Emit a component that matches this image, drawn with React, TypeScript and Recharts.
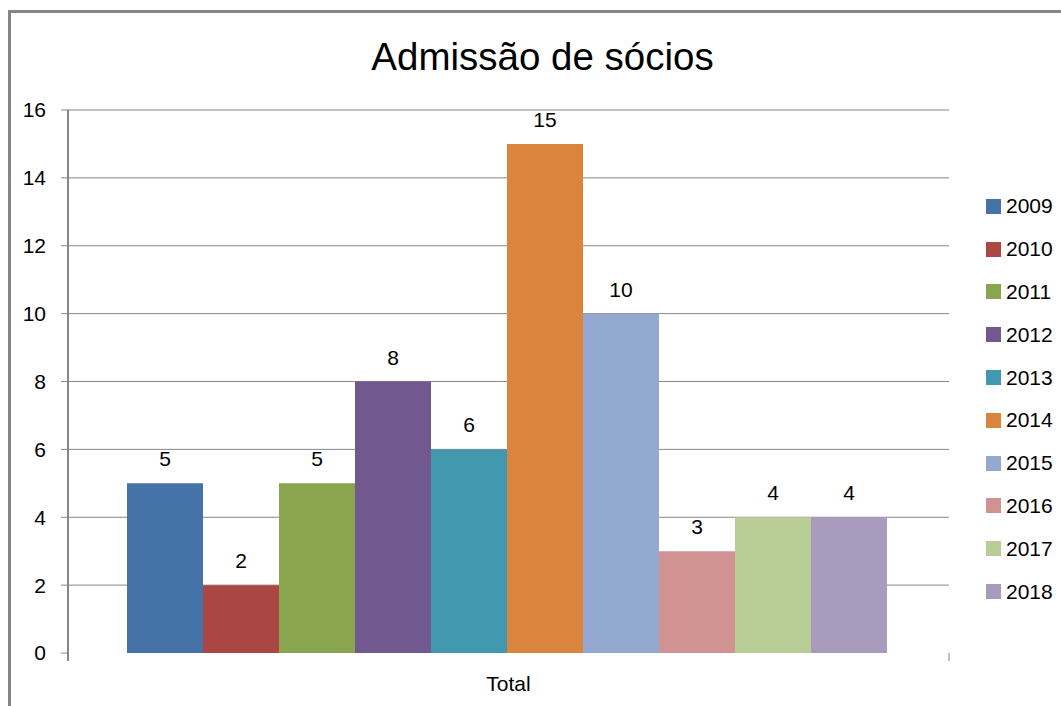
import { Bar, BarChart, CartesianGrid, LabelList, Legend, XAxis, YAxis } from "recharts";

const years = ["2009", "2010", "2011", "2012", "2013", "2014", "2015", "2016", "2017", "2018"];
const admissions = [5, 2, 5, 8, 6, 15, 10, 3, 4, 4];
const colors = [
  "#4572A7", "#AA4643", "#89A54E", "#71588F", "#4198AF",
  "#DB843D", "#93A9CF", "#D19392", "#B9CD96", "#A99BBD",
];
const yTicks = [0, 2, 4, 6, 8, 10, 12, 14, 16];
const gridValues = [2, 4, 6, 8, 10, 12, 14, 16];
const category = "Total";

const row: Record<string, string | number> = { name: category };
years.forEach((y, i) => {
  row[y] = admissions[i];
});
const data = [row];

const FONT = "'Liberation Sans', Arial, sans-serif";
const AXIS = "#868686";

function CategoryTick(props: any) {
  const { x, y, width, payload } = props;
  const left = x - width / 2;
  const right = x + width / 2;
  return (
    <g>
      <line x1={left} y1={y} x2={left} y2={y + 8} stroke={AXIS} strokeWidth={2} />
      <line x1={right} y1={y} x2={right} y2={y + 8} stroke={AXIS} />
      <text x={x} y={y + 38} textAnchor="middle" fontSize={21} fill="#000">
        {payload.value}
      </text>
    </g>
  );
}

function YearLegend() {
  return (
    <div style={{ display: "flex", flexDirection: "column" }}>
      {years.map((y, i) => (
        <div key={y} style={{ height: 42.8, display: "flex", alignItems: "center", fontSize: 21 }}>
          <span style={{ width: 15, height: 15, background: colors[i], marginRight: 5, display: "inline-block" }} />
          <span style={{ color: "#000" }}>{y}</span>
        </div>
      ))}
    </div>
  );
}

export default function App() {
  return (
    <div style={{ position: "absolute", left: 0, top: 0, width: 1061, height: 706, background: "#fff", fontFamily: FONT, overflow: "hidden" }}>
      <div style={{ position: "absolute", left: 8, top: 10, width: 1100, height: 760, borderLeft: `3px solid ${AXIS}`, borderTop: `3px solid ${AXIS}` }} />
      <div style={{ position: "absolute", left: 0, top: 35, width: 1085, textAlign: "center", fontSize: 38.5, color: "#000" }}>
        Admissão de sócios
      </div>
      <BarChart
        width={1061}
        height={706}
        data={data}
        margin={{ top: 110, right: 112, bottom: 0, left: 0 }}
        barCategoryGap={59}
        barGap={0}
        style={{ position: "absolute", left: 0, top: 0 }}
      >
        <CartesianGrid vertical={false} stroke={AXIS} horizontalValues={gridValues} />
        <XAxis dataKey="name" height={53} axisLine={false} tickLine={false} tickSize={0} tickMargin={0} tick={<CategoryTick />} />
        <YAxis
          width={68}
          domain={[0, 16]}
          ticks={yTicks}
          interval={0}
          axisLine={{ stroke: AXIS, strokeWidth: 2 }}
          tickLine={{ stroke: AXIS }}
          tickSize={7}
          tickMargin={15}
          tick={{ fill: "#000", fontSize: 21 }}
        />
        <Legend
          layout="horizontal"
          verticalAlign="middle"
          content={<YearLegend />}
          wrapperStyle={{ left: 986, top: 185, width: 75, right: "auto", bottom: "auto" }}
        />
        {years.map((y, i) => (
          <Bar key={y} dataKey={y} fill={colors[i]} isAnimationActive={false}>
            <LabelList dataKey={y} position="top" offset={17} fill="#000" fontSize={21} />
          </Bar>
        ))}
      </BarChart>
    </div>
  );
}
